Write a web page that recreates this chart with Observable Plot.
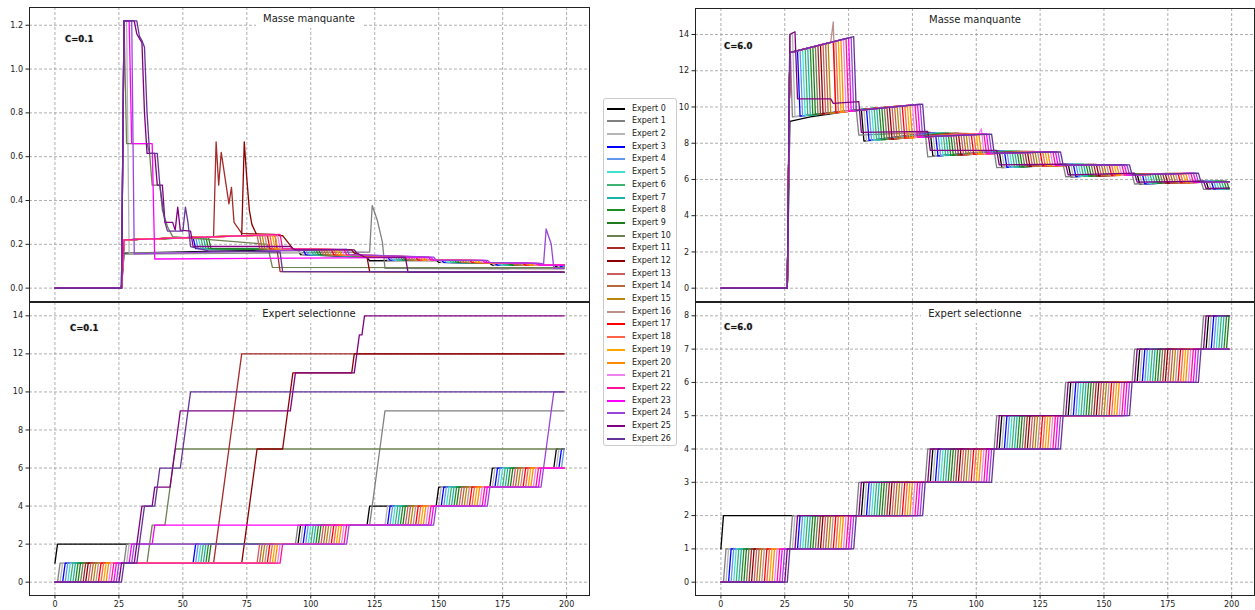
<!DOCTYPE html>
<html><head><meta charset="utf-8">
<script src="https://cdn.jsdelivr.net/npm/d3@7"></script>
<script src="https://cdn.jsdelivr.net/npm/@observablehq/plot@0.6"></script>
<style>
body{margin:0;background:#fff;font-family:"DejaVu Sans",sans-serif;}
#fig{position:relative;width:1255px;height:610px;overflow:hidden;background:#fff}
.title{position:absolute;background:#fff;font-size:10px;color:#222;text-align:center;height:19px;line-height:19px;white-space:nowrap}
.clab{position:absolute;font-size:8.5px;font-weight:bold;color:#111;line-height:10px;text-shadow:0 0 1.5px #999}
#legend{position:absolute;left:603px;top:98px;width:74px;height:348px;border:1px solid #ccc;border-radius:3px;background:#fff;box-sizing:border-box}
.lg{position:absolute;left:0;height:12px;width:72px}
.lg i{position:absolute;left:3px;top:5px;width:18px;height:2px}
.lg span{position:absolute;left:28px;top:0;font-size:8px;line-height:12px;color:#222;white-space:nowrap}
</style></head><body><div id="fig"></div>
<script>
const experts = ["Expert 0","Expert 1","Expert 2","Expert 3","Expert 4","Expert 5","Expert 6","Expert 7","Expert 8","Expert 9","Expert 10","Expert 11","Expert 12","Expert 13","Expert 14","Expert 15","Expert 16","Expert 17","Expert 18","Expert 19","Expert 20","Expert 21","Expert 22","Expert 23","Expert 24","Expert 25","Expert 26"];
const colors = ["#000000","#808080","#b5b5b5","#0000ff","#6495ed","#40e0d0","#3cb371","#20b2aa","#228b22","#1f7a1f","#6f8050","#a52a2a","#8b0000","#cd5c5c","#b8683f","#b8860b","#bc8f8f","#ff0000","#ff6347","#ffa500","#ff8c00","#ee82ee","#ff1493","#ff00ff","#9b45d8","#800080","#663399"];
const xTicks = [0,25,50,75,100,125,150,175,200];
const yTicksMassLeft = [0,0.2,0.4,0.6,0.8,1.0,1.2];
const yTicksSelLeft = [0,2,4,6,8,10,12,14];
const yTicksMassRight = [0,2,4,6,8,10,12,14];
const yTicksSelRight = [0,1,2,3,4,5,6,7,8];
const titleMass = "Masse manquante";
const titleSel = "Expert selectionne";
const labelLeft = "C=0.1";
const labelRight = "C=6.0";

// Missing mass, C=0.1: vertices [x,y,x,y,...] per expert
const massLeft = [
[0,0,26,0,27,0.16,95,0.176,96,0.153,122,0.14,123,0.125,149,0.127,150,0.118,170,0.113,171,0.105,195,0.105,196,0.098,199,0.098],
[0,0,26,0,27,0.155,123,0.165,124,0.377,126,0.31,128,0.21,129,0.09,199,0.088],
[0,0,26,0,27,1.22,28,1.22,29,0.16,96,0.165,97,0.153,129,0.142,130,0.128,150,0.127,151,0.118,171,0.113,172,0.105,196,0.105,197,0.098,199,0.098],
[0,0,26,0,27,0.22,54,0.232,55,0.18,97,0.176,98,0.153,130,0.142,131,0.128,151,0.127,152,0.118,172,0.113,173,0.105,197,0.105,198,0.098,199,0.098],
[0,0,26,0,27,0.22,55,0.232,56,0.18,98,0.176,99,0.153,131,0.142,132,0.128,152,0.127,153,0.118,173,0.113,174,0.105,198,0.105,199,0.098],
[0,0,26,0,27,0.22,56,0.232,57,0.18,99,0.176,100,0.153,132,0.142,133,0.128,153,0.127,154,0.118,174,0.113,175,0.105,199,0.105],
[0,0,26,0,27,0.22,57,0.232,58,0.18,100,0.176,101,0.153,133,0.142,134,0.128,154,0.127,155,0.118,175,0.113,176,0.105,199,0.105],
[0,0,26,0,27,0.22,58,0.232,59,0.18,101,0.176,102,0.153,134,0.142,135,0.128,155,0.127,156,0.118,176,0.113,177,0.105,199,0.105],
[0,0,26,0,27,0.22,59,0.232,60,0.18,102,0.176,103,0.153,135,0.142,136,0.128,156,0.127,157,0.118,177,0.113,178,0.105,199,0.105],
[0,0,26,0,27,0.22,60,0.232,61,0.18,103,0.176,104,0.153,136,0.142,137,0.128,157,0.127,158,0.118,178,0.113,179,0.105,199,0.105],
[0,0,26,0,27,1.22,28,0.66,36,0.66,37,0.615,38,0.47,41,0.47,42,0.355,44,0.28,46,0.235,83,0.2,85,0.095,199,0.093],
[0,0,26,0,27,0.22,62,0.235,63,0.668,64,0.47,65,0.62,68,0.385,69,0.46,70,0.3,73,0.25,86,0.245,88,0.076,199,0.073],
[0,0,26,0,27,0.22,73,0.24,74,0.668,75,0.5,76,0.355,77,0.29,79,0.24,89,0.24,90,0.225,91,0.21,92,0.195,93,0.18,116,0.175,117,0.16,122,0.14,123,0.076,199,0.073],
[0,0,26,0,27,0.22,79,0.242,80,0.18,104,0.176,105,0.153,137,0.142,138,0.128,158,0.127,159,0.118,179,0.113,180,0.105,199,0.105],
[0,0,26,0,27,0.22,80,0.242,81,0.18,105,0.176,106,0.153,138,0.142,139,0.128,159,0.127,160,0.118,180,0.113,181,0.105,199,0.105],
[0,0,26,0,27,0.22,81,0.242,82,0.18,106,0.176,107,0.153,139,0.142,140,0.128,160,0.127,161,0.118,181,0.113,182,0.105,199,0.105],
[0,0,26,0,27,0.22,82,0.242,83,0.18,107,0.176,108,0.153,140,0.142,141,0.128,161,0.127,162,0.118,182,0.113,183,0.105,199,0.105],
[0,0,26,0,27,0.22,83,0.243,84,0.18,108,0.176,109,0.153,141,0.142,142,0.128,162,0.127,163,0.118,183,0.113,184,0.105,199,0.105],
[0,0,26,0,27,0.22,84,0.243,85,0.18,109,0.176,110,0.153,142,0.142,143,0.128,163,0.127,164,0.118,184,0.113,185,0.105,199,0.105],
[0,0,26,0,27,0.22,85,0.243,86,0.18,110,0.176,111,0.153,143,0.142,144,0.128,164,0.127,165,0.118,185,0.113,186,0.105,199,0.105],
[0,0,26,0,27,0.22,86,0.244,87,0.18,111,0.176,112,0.153,144,0.142,145,0.128,165,0.127,166,0.118,186,0.113,187,0.105,199,0.105],
[0,0,26,0,27,0.22,87,0.244,88,0.18,112,0.176,113,0.153,145,0.142,146,0.128,166,0.127,167,0.118,187,0.113,188,0.105,199,0.105],
[0,0,26,0,27,0.22,88,0.245,89,0.18,113,0.176,114,0.153,146,0.142,147,0.128,167,0.127,168,0.118,188,0.113,189,0.105,199,0.105],
[0,0,26,0,27,1.22,29,1.22,30,0.66,38,0.66,39,0.133,147,0.14,148,0.128,168,0.127,169,0.118,189,0.113,190,0.105,199,0.105],
[0,0,26,0,27,1.22,30,1.22,31,0.156,114,0.178,115,0.153,148,0.142,149,0.128,169,0.127,170,0.118,190,0.113,191,0.11,192,0.27,194,0.2,195,0.09,199,0.09],
[0,0,26,0,27,1.22,31,1.22,32,1.16,33,1.14,34,1.12,35,0.8,36,0.615,39,0.615,40,0.47,42,0.47,43,0.3,46,0.3,47,0.265,48,0.37,49,0.265,53,0.26,54,0.19,92,0.19,93,0.18,94,0.175,117,0.175,118,0.16,121,0.142,137,0.14,138,0.073,199,0.072],
[0,0,26,0,27,1.22,32,1.22,33,1.15,34,1.13,35,1.1,36,0.8,37,0.615,40,0.615,41,0.47,43,0.3,44,0.26,50,0.26,51,0.37,52,0.3,53,0.19,60,0.17,88,0.165,89,0.076,199,0.073]
];

// Missing mass, C=6.0: vertices per expert
const massRight = [
[0,0,26,0,27,9.2,35,9.45,55,9.87,56,8.12,82,8.6,83,7.28,109,7.58,110,6.65,136,6.85,137,6.15,163,6.3,164,5.75,190,5.9,191,5.45,199,5.5],
[0,0,26,0,27,14,28,9.45,53,9.85,54,8.45,80,8.6,81,7.25,107,7.58,108,6.65,134,6.85,135,6.15,161,6.3,162,5.75,188,5.9,189,5.45,199,5.5],
[0,0,26,0,27,14,28,14.1,29,9.46,56,9.89,57,8.13,83,8.59,84,7.29,110,7.58,111,6.66,137,6.85,138,6.16,164,6.3,165,5.76,191,5.9,192,5.46,199,5.49],
[0,0,26,0,27,13,30,13.11,31,9.49,57,9.9,58,8.14,84,8.59,85,7.3,111,7.57,112,6.67,138,6.84,139,6.16,165,6.31,166,5.76,192,5.9,193,5.47,199,5.49],
[0,0,26,0,27,13,31,13.14,32,9.51,58,9.91,59,8.15,85,8.58,86,7.31,112,7.57,113,6.67,139,6.84,140,6.17,166,6.31,167,5.77,193,5.9,194,5.47,199,5.49],
[0,0,26,0,27,13,32,13.18,33,9.52,59,9.92,60,8.16,86,8.58,87,7.31,113,7.57,114,6.68,140,6.84,141,6.17,167,6.31,168,5.77,194,5.9,195,5.48,199,5.5],
[0,0,26,0,27,13,33,13.21,34,9.53,60,9.93,61,8.17,87,8.58,88,7.32,114,7.57,115,6.69,141,6.84,142,6.17,168,6.31,169,5.77,195,5.9,196,5.48,199,5.5],
[0,0,26,0,27,13,34,13.25,35,9.55,61,9.95,62,8.18,88,8.57,89,7.33,115,7.56,116,6.69,142,6.84,143,6.18,169,6.31,170,5.78,196,5.9,197,5.49,199,5.5],
[0,0,26,0,27,13,35,13.28,36,9.56,62,9.96,63,8.19,89,8.57,90,7.33,116,7.56,117,6.7,143,6.83,144,6.18,170,6.32,171,5.78,197,5.9,198,5.49,199,5.5],
[0,0,26,0,27,13,36,13.32,37,9.58,63,9.97,64,8.2,90,8.56,91,7.34,117,7.56,118,6.7,144,6.83,145,6.19,171,6.32,172,5.79,198,5.9,199,5.5],
[0,0,26,0,27,13,37,13.35,38,9.59,64,9.98,65,8.21,91,8.56,92,7.35,118,7.56,119,6.71,145,6.83,146,6.19,172,6.32,173,5.79,199,5.88],
[0,0,26,0,27,13,38,13.39,39,9.6,65,9.99,66,8.22,92,8.56,93,7.35,119,7.55,120,6.72,146,6.83,147,6.19,173,6.32,174,5.79,199,5.88],
[0,0,26,0,27,13,39,13.42,40,9.62,66,10.01,67,8.23,93,8.55,94,7.36,120,7.55,121,6.72,147,6.83,148,6.2,174,6.32,175,5.8,199,5.88],
[0,0,26,0,27,13,40,13.46,41,9.63,67,10.02,68,8.24,94,8.55,95,7.36,121,7.55,122,6.73,148,6.82,149,6.2,175,6.33,176,5.8,199,5.88],
[0,0,26,0,27,13,41,13.49,42,9.65,68,10.03,69,8.25,95,8.54,96,7.37,122,7.55,123,6.73,149,6.82,150,6.21,176,6.33,177,5.81,199,5.88],
[0,0,26,0,27,13,42,13.53,43,9.66,69,10.04,70,8.26,96,8.54,97,7.38,123,7.55,124,6.74,150,6.82,151,6.21,177,6.33,178,5.81,199,5.88],
[0,0,26,0,27,13,43,13.56,44,14.7,45,9.68,70,10.05,71,8.27,97,8.54,98,7.38,124,7.54,125,6.75,151,6.82,152,6.21,178,6.33,179,5.81,199,5.88],
[0,0,26,0,27,13,44,13.6,45,9.69,71,10.07,72,8.28,98,8.53,99,7.39,125,7.54,126,6.75,152,6.82,153,6.22,179,6.33,180,5.82,199,5.88],
[0,0,26,0,27,13,45,13.63,46,9.7,72,10.08,73,8.29,99,8.53,100,7.4,126,7.54,127,6.76,153,6.81,154,6.22,180,6.34,181,5.82,199,5.88],
[0,0,26,0,27,13,46,13.67,47,9.72,73,10.09,74,8.3,100,8.52,101,7.4,127,7.54,128,6.76,154,6.81,155,6.23,181,6.34,182,5.83,199,5.88],
[0,0,26,0,27,13,47,13.7,48,9.73,74,10.1,75,8.31,101,8.52,102,7.41,128,7.53,129,6.77,155,6.81,156,6.23,182,6.34,183,5.83,199,5.88],
[0,0,26,0,27,13,48,13.74,49,9.74,75,10.11,76,8.32,101,8.52,102,8.8,103,7.42,129,7.53,130,6.78,156,6.81,157,6.23,183,6.34,184,5.83,199,5.88],
[0,0,26,0,27,13,49,13.77,50,9.76,76,10.13,77,8.33,103,8.51,104,7.42,130,7.53,131,6.78,157,6.81,158,6.24,184,6.34,185,5.84,199,5.88],
[0,0,26,0,27,13,50,13.81,51,9.77,77,10.14,78,8.34,104,8.51,105,7.43,131,7.53,132,6.79,158,6.8,159,6.24,185,6.35,186,5.84,199,5.88],
[0,0,26,0,27,13,51,13.84,52,9.79,78,10.15,79,8.35,105,8.5,106,7.44,132,7.52,133,6.79,159,6.8,160,6.25,186,6.35,187,5.85,199,5.88],
[0,0,26,0,27,14,29,14.15,30,10.45,43,10.45,44,10.2,54,10.3,55,8.6,81,8.65,82,7.6,108,7.6,109,6.8,135,6.85,136,6.25,162,6.35,163,5.85,189,5.9,190,5.5,199,5.52],
[0,0,26,0,27,13,52,13.88,53,9.8,79,10.16,80,8.36,106,8.5,107,7.45,133,7.52,134,6.8,160,6.8,161,6.25,187,6.35,188,5.85,199,5.88]
];

// Selection steps (time index at which each expert is selected), C=0.1
const selLeft = [
[0,1,96,123,150,171,196],
[2,28,95,124,125,126,127,128,129],
[3,29,97,130,151,172,197],
[4,55,98,131,152,173,198],
[5,56,99,132,153,174,199],
[6,57,100,133,154,175],
[7,58,101,134,155,176],
[8,59,102,135,156,177],
[9,60,103,136,157,178],
[10,61,104,137,158,179],
[11,37,38,44,45,46,47],
[12,63,64,65,66,67,68,69,70,71,72,73],
[13,74,75,76,77,78,79,90,91,92,93,117],
[14,80,105,138,159,180],
[15,81,106,139,160,181],
[16,82,107,140,161,182],
[17,83,108,141,162,183],
[18,84,109,142,163,184],
[19,85,110,143,164,185],
[20,86,111,144,165,186],
[21,87,112,145,166,187],
[22,88,113,146,167,188],
[23,89,114,147,168,189],
[24,30,39,148,169,190],
[25,31,115,149,170,191,192,193,194,195],
[26,32,33,34,39,46,47,48,49,93,94,118,119,121],
[27,33,34,35,40,41,50,51,52,53]
];

// Selection steps, C=6.0
const selRight = [
[0,1,56,83,110,137,164,191],
[2,28,54,81,108,135,162,189],
[3,29,57,84,111,138,165,192],
[4,31,58,85,112,139,166,193],
[5,32,59,86,113,140,167,194],
[6,33,60,87,114,141,168,195],
[7,34,61,88,115,142,169,196],
[8,35,62,89,116,143,170,197],
[9,36,63,90,117,144,171,198],
[10,37,64,91,118,145,172,199],
[11,38,65,92,119,146,173],
[12,39,66,93,120,147,174],
[13,40,67,94,121,148,175],
[14,41,68,95,122,149,176],
[15,42,69,96,123,150,177],
[16,43,70,97,124,151,178],
[17,44,71,98,125,152,179],
[18,45,72,99,126,153,180],
[19,46,73,100,127,154,181],
[20,47,74,101,128,155,182],
[21,48,75,102,129,156,183],
[22,49,76,103,130,157,184],
[23,50,77,104,131,158,185],
[24,51,78,105,132,159,186],
[25,52,79,106,133,160,187],
[26,30,55,82,109,136,163,190],
[27,53,80,107,134,161,188]
];

function vertexRows(lists){
  const rows=[];
  lists.forEach((arr,i)=>{for(let j=0;j<arr.length;j+=2) rows.push({expert:experts[i],x:arr[j],y:arr[j+1]});});
  return rows;
}
function countRows(lists){
  const rows=[];
  lists.forEach((sel,i)=>{for(let x=0;x<=199;x++){let c=0;for(const t of sel) if(t<=x) c++; rows.push({expert:experts[i],x,y:c});}});
  return rows;
}

const fig=document.getElementById("fig");
function panel({data,yDomain,yTicks,yFormat,left,top,width,height,mt,mb,ml,mr,showX}){
  const marks=[
    Plot.gridX(xTicks,{stroke:"#9a9a9a",strokeOpacity:1,strokeWidth:0.8,strokeDasharray:"3,2"}),
    Plot.gridY(yTicks,{stroke:"#9a9a9a",strokeOpacity:1,strokeWidth:0.8,strokeDasharray:"3,2"}),
    Plot.line(data,{x:"x",y:"y",z:"expert",stroke:"expert",strokeWidth:1.3}),
    Plot.frame({stroke:"#222",strokeWidth:1}),
    Plot.axisY(yTicks,{tickSize:3.5,tickPadding:3,tickFormat:yFormat,fontSize:8,color:"#222",label:null})
  ];
  if(showX) marks.push(Plot.axisX(xTicks,{tickSize:3.5,tickPadding:2,fontSize:8,color:"#222",label:null}));
  const svg=Plot.plot({
    width,height,marginTop:mt,marginBottom:mb,marginLeft:ml,marginRight:mr,
    x:{domain:[-9.95,208.95],axis:null,label:null},
    y:{domain:yDomain,axis:null,label:null},
    color:{type:"ordinal",domain:experts,range:colors},
    style:{background:"transparent",fontFamily:"DejaVu Sans",fontSize:"8px",color:"#222",overflow:"visible"},
    marks
  });
  svg.style.position="absolute";svg.style.left=left+"px";svg.style.top=top+"px";svg.style.maxWidth="none";
  fig.appendChild(svg);
}
const f1=d3.format(".1f"), f0=d3.format("d");
panel({data:vertexRows(massLeft),yDomain:[-0.061,1.281],yTicks:yTicksMassLeft,yFormat:f1,left:0,top:0,width:595,height:302,mt:7,mb:1,ml:29,mr:6,showX:false});
panel({data:countRows(selLeft),yDomain:[-0.7,14.7],yTicks:yTicksSelLeft,yFormat:f0,left:0,top:295,width:595,height:315,mt:7,mb:15,ml:29,mr:6,showX:true});
panel({data:vertexRows(massRight),yDomain:[-0.735,15.435],yTicks:yTicksMassRight,yFormat:f0,left:640,top:0,width:615,height:302,mt:8,mb:1,ml:55,mr:1,showX:false});
panel({data:countRows(selRight),yDomain:[-0.4,8.4],yTicks:yTicksSelRight,yFormat:f0,left:640,top:295,width:615,height:315,mt:7,mb:15,ml:55,mr:1,showX:true});

function addTitle(text,left,top,width){const d=document.createElement("div");d.className="title";d.textContent=text;d.style.left=left+"px";d.style.top=top+"px";d.style.width=width+"px";fig.appendChild(d);}
addTitle(titleMass,256,9,106);
addTitle(titleSel,255,304,108);
addTitle(titleMass,921,10,108);
addTitle(titleSel,921,304,108);
function addLab(text,left,top){const d=document.createElement("div");d.className="clab";d.textContent=text;d.style.left=left+"px";d.style.top=top+"px";fig.appendChild(d);}
addLab(labelLeft,65,34);
addLab(labelLeft,70,323);
addLab(labelRight,724,41);
addLab(labelRight,724,322);

const lg=document.createElement("div");lg.id="legend";
experts.forEach((e,i)=>{const r=document.createElement("div");r.className="lg";r.style.top=(3.7+12.69*i)+"px";
  const ln=document.createElement("i");ln.style.background=colors[i];const s=document.createElement("span");s.textContent=e;r.appendChild(ln);r.appendChild(s);lg.appendChild(r);});
fig.appendChild(lg);
</script></body></html>
